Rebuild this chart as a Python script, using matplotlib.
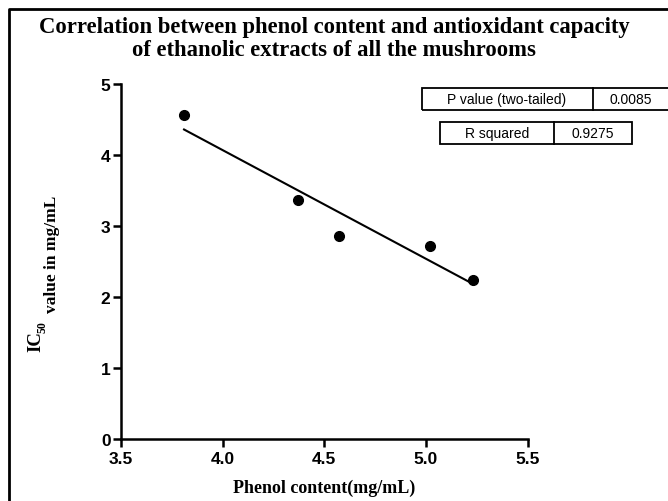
import numpy as np
import matplotlib
matplotlib.use('Agg')
import matplotlib.pyplot as plt
from matplotlib.patches import Rectangle
from matplotlib.lines import Line2D

# data
phenol = [3.81, 4.37, 4.57, 5.02, 5.23]
ic50 = [4.57, 3.36, 2.86, 2.72, 2.24]
x_ticks = [3.5, 4.0, 4.5, 5.0, 5.5]
y_ticks = [0, 1, 2, 3, 4, 5]
p_value_txt = '0.0085'
r2_txt = '0.9275'

W, H = 668, 502
fig = plt.figure(figsize=(W / 100, H / 100), dpi=100)

def fx(px):
    return px / W

def fy(py):
    return 1 - py / H

ax = fig.add_axes([fx(121), fy(440), fx(527.7) - fx(121), fy(85) - fy(440)])

# points + linear fit
ax.plot(phenol, ic50, 'o', color='black', markersize=7, clip_on=False)
slope, intercept = np.polyfit(phenol, ic50, 1)
xf = np.array([min(phenol), max(phenol)])
ax.plot(xf, slope * xf + intercept, color='black', linewidth=1.5)

ax.set_xlim(3.5, 5.5)
ax.set_ylim(0, 5)
ax.set_xticks(x_ticks)
ax.set_xticklabels(['%.1f' % v for v in x_ticks])
ax.set_yticks(y_ticks)
for s in ['top', 'right']:
    ax.spines[s].set_visible(False)
for s in ['left', 'bottom']:
    ax.spines[s].set_linewidth(1.8)
ax.tick_params(axis='both', direction='out', length=6, width=1.8, labelsize=12.5)
ax.tick_params(axis='x', pad=3)
ax.tick_params(axis='y', pad=1.5)
for lab in ax.get_xticklabels() + ax.get_yticklabels():
    lab.set_fontfamily('Liberation Sans')
    lab.set_fontweight('bold')

serif = {'family': 'Liberation Serif', 'weight': 'bold'}
ax.set_xlabel('Phenol content(mg/mL)', fontdict=serif, fontsize=13, labelpad=9)

# title
fig.text(0.5, fy(27), 'Correlation between phenol content and antioxidant capacity',
         ha='center', va='center', fontsize=16.3, **serif)
fig.text(0.5, fy(51), 'of ethanolic extracts of all the mushrooms',
         ha='center', va='center', fontsize=16.3, **serif)

# y label: IC + subscript 50 + smaller text
fig.text(fx(40), fy(352), 'IC', rotation=90, rotation_mode='anchor',
         ha='left', va='baseline', fontsize=13.5, **serif)
fig.text(fx(46), fy(333), '50', rotation=90, rotation_mode='anchor',
         ha='left', va='baseline', fontsize=8.5, **serif)
fig.text(fx(56), fy(313), 'value in mg/mL', rotation=90, rotation_mode='anchor',
         ha='left', va='baseline', fontsize=12.5, **serif)

# stats boxes
def box(x0, x1, y0, y1, xd):
    fig.add_artist(Rectangle((fx(x0), fy(y1)), fx(x1) - fx(x0), fy(y0) - fy(y1),
                             transform=fig.transFigure, fill=False,
                             edgecolor='black', linewidth=1.3, clip_on=False))
    fig.add_artist(Line2D([fx(xd), fx(xd)], [fy(y0), fy(y1)],
                          transform=fig.transFigure, color='black', linewidth=1.3))

box(422, 672, 89, 111, 593)
fig.text(fx(507), fy(100), 'P value (two-tailed)', ha='center', va='center',
         fontsize=10, family='Liberation Sans')
fig.text(fx(631), fy(100), p_value_txt, ha='center', va='center',
         fontsize=10, family='Liberation Sans')
box(440, 632, 123, 145, 554)
fig.text(fx(497), fy(134), 'R squared', ha='center', va='center',
         fontsize=10, family='Liberation Sans')
fig.text(fx(593), fy(134), r2_txt, ha='center', va='center',
         fontsize=10, family='Liberation Sans')

# outer frame (left and top only, rest is cropped)
fig.add_artist(Line2D([fx(9), fx(9), fx(670)], [fy(505), fy(10), fy(10)],
                      transform=fig.transFigure, color='black', linewidth=2))

fig.savefig('out.png', dpi=100)
